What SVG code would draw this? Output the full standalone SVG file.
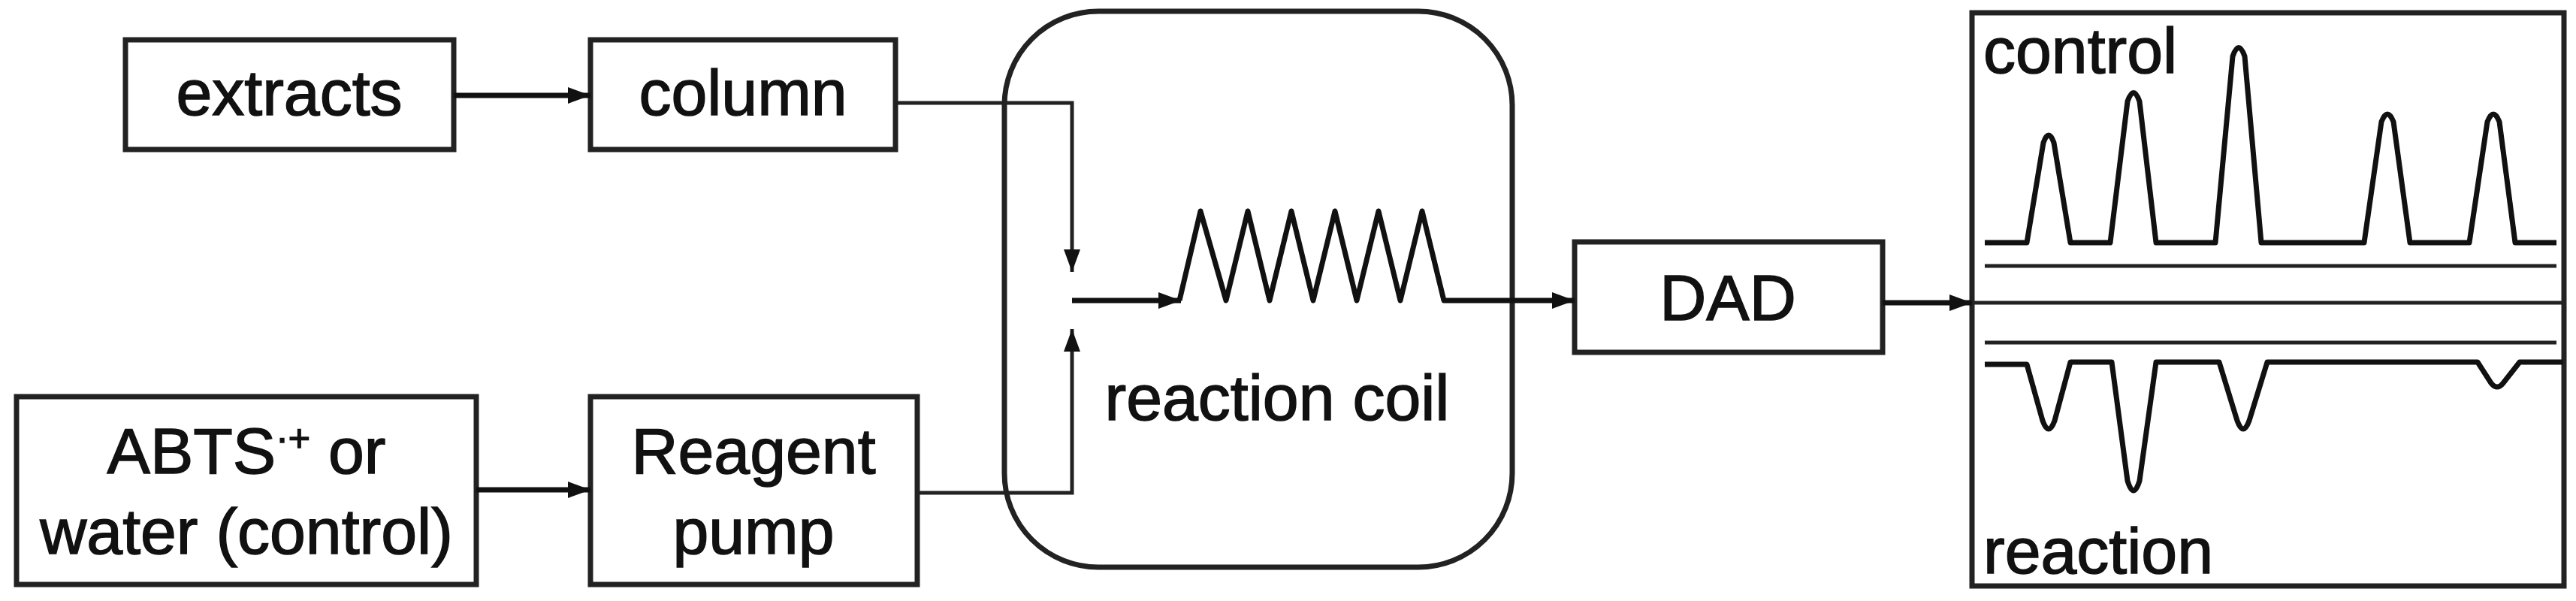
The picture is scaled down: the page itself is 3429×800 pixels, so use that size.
<svg xmlns="http://www.w3.org/2000/svg" width="3429" height="800" viewBox="0 0 3429 800">
<defs>
<style>
.box{fill:#fff;stroke:#222;stroke-width:7}
.ln{fill:none;stroke:#111;stroke-width:7;stroke-linejoin:round}
.thin{fill:none;stroke:#222;stroke-width:5}
text{font-family:"Liberation Sans",Arial,sans-serif;font-size:86px;fill:#111;stroke:#111;stroke-width:1.5;text-anchor:middle}
.l{text-anchor:start}
</style>
<marker id="ah" viewBox="0 0 10 10" refX="10" refY="5" markerWidth="30" markerHeight="22" orient="auto" markerUnits="userSpaceOnUse" preserveAspectRatio="none">
<path d="M0,0 L10,5 L0,10 z" fill="#111"/>
</marker>
</defs>
<rect width="3429" height="800" fill="#fff"/>
<g id="reaction-coil-box">
<rect x="1337" y="15" width="676" height="740" rx="125" ry="125" class="box" style="fill:none"/>
<text x="1700" y="559">reaction coil</text>
</g>
<g id="extracts"><rect class="box" x="167" y="53" width="437" height="146"/><text x="385" y="153">extracts</text></g>
<g id="column"><rect class="box" x="786" y="53" width="406" height="146"/><text x="989" y="153">column</text></g>
<g id="abts"><rect class="box" x="22" y="528" width="612" height="250"/>
<text x="328" y="630">ABTS<tspan font-size="50" dy="-30">·+</tspan><tspan dy="30"> or</tspan></text>
<text x="328" y="737">water (control)</text></g>
<g id="reagent-pump"><rect class="box" x="786" y="528" width="435" height="250"/><text x="1003" y="630">Reagent</text><text x="1003" y="737">pump</text></g>
<g id="dad"><rect class="box" x="2096" y="322" width="410" height="147"/><text x="2300" y="426">DAD</text></g>
<g id="chromatogram">
<rect class="box" x="2625" y="17" width="788" height="763"/>
<text class="l" x="2640" y="97">control</text>
<text class="l" x="2640" y="763">reaction</text>
<line class="thin" x1="2642" y1="354" x2="3403" y2="354"/>
<line class="thin" x1="2625" y1="403" x2="3413" y2="403"/>
<line class="thin" x1="2642" y1="456" x2="3403" y2="456"/>
<path class="ln" d="M2642,323 L2698,323 L2720,190 Q2727,170 2734,190 L2756,323 L2809,323 L2832,135 Q2840,112 2848,135 L2870,323 L2949,323 L2972,75 Q2980,52 2988,75 L3010,323 L3147,323 L3170,162 Q3178,142 3186,162 L3208,323 L3287,323 L3311,162 Q3319,142 3327,162 L3348,323 L3403,323"/>
<path class="ln" d="M2642,485 L2698,485 L2719,560 Q2727,582 2735,560 L2756,482 L2811,482 L2832,640 Q2840,666 2848,640 L2870,482 L2954,482 L2978,560 Q2986,582 2994,560 L3018,482 L3298,482 L3316,510 Q3324,520 3332,510 L3354,482 L3412,482"/>
</g>
<g id="connectors">
<line class="ln" x1="604" y1="127" x2="786" y2="127" marker-end="url(#ah)"/>
<line class="ln" x1="634" y1="652" x2="786" y2="652" marker-end="url(#ah)"/>
<polyline class="thin" points="1192,137 1427,137 1427,362" marker-end="url(#ah)"/>
<polyline class="thin" points="1221,656 1427,656 1427,438" marker-end="url(#ah)"/>
<line class="ln" x1="1427" y1="400" x2="1572" y2="400" marker-end="url(#ah)"/>
<path class="ln" d="M1570,400 L1598,281 L1632,400 L1661,281 L1690,400 L1719,281 L1748,400 L1777,281 L1806,400 L1835,281 L1864,400 L1893,281 L1922,400 L1940,400"/>
<line class="ln" x1="1940" y1="400" x2="2096" y2="400" marker-end="url(#ah)"/>
<line class="ln" x1="2506" y1="403" x2="2625" y2="403" marker-end="url(#ah)"/>
</g>
</svg>
